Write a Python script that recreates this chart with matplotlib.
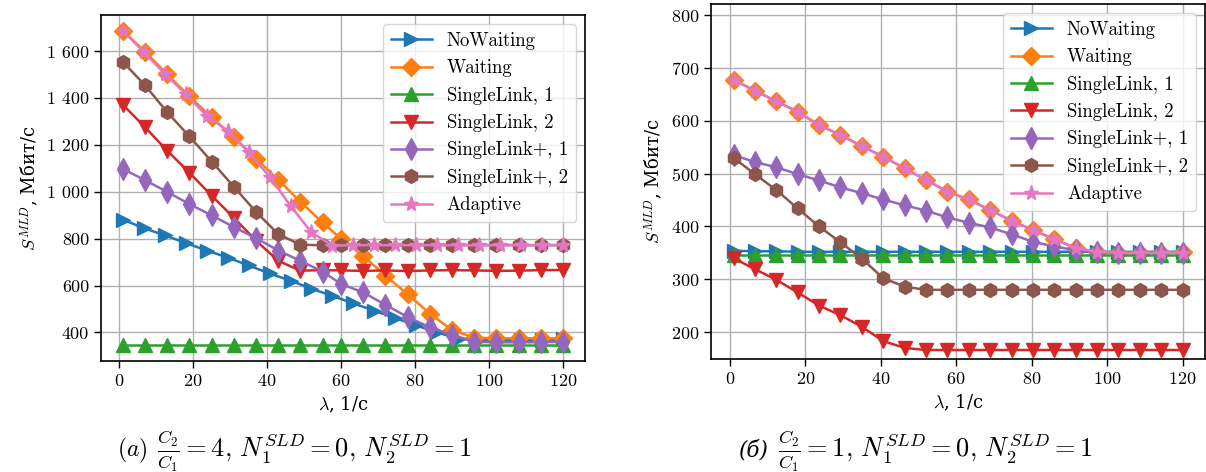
import numpy as np
import matplotlib
matplotlib.use('Agg')
import matplotlib.pyplot as plt

plt.rcParams['font.family'] = ['cmr10', 'DejaVu Serif']
plt.rcParams['mathtext.fontset'] = 'cm'
plt.rcParams['axes.formatter.use_mathtext'] = True
plt.rcParams['font.size'] = 13

# lambda grids (21 and 22 points)
lam21 = [1, 7, 13, 19, 25, 31, 37, 43, 49, 55, 60, 66, 72, 78, 84, 90, 96, 102, 108, 114, 120]
lam22 = [1, 6.67, 12.33, 18, 23.67, 29.33, 35, 40.67, 46.33, 52, 57.67, 63.33, 69, 74.67,
         80.33, 86, 91.67, 97.33, 103, 108.67, 114.33, 120]

# (a) C2/C1 = 4
a_nowait = [882, 845, 815, 782, 750, 720, 686, 652, 621, 587, 556, 524, 493, 461, 430, 400,
            374, 368, 367, 367, 368, 370]
a_wait = [1688, 1598, 1502, 1408, 1318, 1234, 1142, 1052, 958, 870, 800, 726, 643, 563, 481,
          410, 378, 375, 375, 375, 375]
a_sl1 = [345] * 21
a_sl2 = [1372, 1276, 1176, 1082, 984, 890, 792, 706, 664, 666, 665, 663, 665, 662, 665, 666,
         665, 663, 664, 666, 667]
a_slp1 = [1098, 1050, 1000, 948, 900, 850, 803, 750, 706, 660, 607, 571, 518, 466, 422, 390,
          360, 358, 358, 358, 360]
a_slp2 = [1555, 1455, 1340, 1237, 1130, 1022, 915, 820, 775, 772, 773, 772, 773, 772, 773,
          774, 773, 774, 773, 773, 773]
a_adapt = [1688, 1597, 1505, 1418, 1325, 1262, 1170, 1065, 941, 827, 771, 772, 773, 772, 773,
           772, 773, 772, 773, 772, 773, 773]

# (б) C2/C1 = 1
b_nowait = [354, 353, 353, 352, 352, 352, 352, 352, 352, 352, 352, 352, 352, 352, 352, 352,
            352, 352, 352, 352, 352, 352]
b_wait = [678, 657, 637, 617, 592, 573, 552, 532, 510, 488, 466, 451, 431, 411, 393, 376,
          359, 352, 350, 350, 350, 351]
b_sl1 = [345] * 22
b_sl2 = [340, 319, 299, 275, 250, 232, 210, 183, 170, 166, 166, 166, 166, 166, 166, 166,
         166, 166, 166, 166, 166, 166]
b_slp1 = [535, 522, 512, 499, 487, 474, 463, 451, 440, 430, 417, 407, 398, 385, 371, 362,
          355, 351, 350, 350, 350, 350]
b_slp2 = [530, 499, 469, 434, 400, 370, 339, 302, 286, 280, 280, 280, 280, 280, 280, 280,
          280, 280, 280, 280, 280, 280]
b_adapt = [677, 657, 637, 617, 592, 573, 552, 532, 510, 488, 466, 451, 431, 411, 393, 376,
           359, 352, 350, 350, 350, 350]

labels = ['NoWaiting', 'Waiting', 'SingleLink, 1', 'SingleLink, 2',
          'SingleLink+, 1', 'SingleLink+, 2', 'Adaptive']
markers = ['>', 'D', '^', 'v', 'd', 'h', '*']
colors = ['C0', 'C1', 'C2', 'C3', 'C4', 'C5', 'C6']
sizes = [10, 9, 10, 10, 11, 10, 11]

fig = plt.figure(figsize=(12.06, 4.72), dpi=100)
ax1 = fig.add_axes([0.0837, 0.235, 0.4013, 0.733])
ax2 = fig.add_axes([0.5896, 0.2394, 0.4096, 0.752])

series_a = [(lam22, a_nowait), (lam21, a_wait), (lam21, a_sl1), (lam21, a_sl2),
            (lam21, a_slp1), (lam21, a_slp2), (lam22, a_adapt)]
series_b = [(lam22, b_nowait), (lam22, b_wait), (lam22, b_sl1), (lam22, b_sl2),
            (lam22, b_slp1), (lam22, b_slp2), (lam22, b_adapt)]

for ax, series in [(ax1, series_a), (ax2, series_b)]:
    for (x, y), lab, m, c, ms in zip(series, labels, markers, colors, sizes):
        ax.plot(x, y, marker=m, color=c, label=lab, lw=1.8, ms=ms)
    ax.grid(True, color='#b0b0b0', lw=1)
    ax.set_axisbelow(True)
    ax.legend(loc='upper right', fontsize=13.5, handlelength=2.2, labelspacing=0.5,
              borderpad=0.4, handletextpad=0.8)
    for s in ax.spines.values():
        s.set_linewidth(1.2)
    ax.tick_params(width=1, length=5, labelsize=13)
    ax.set_xticks([0, 20, 40, 60, 80, 100, 120])
    ax.set_xlabel('$\\lambda$, 1/с', fontsize=13, family='DejaVu Serif')
    ax.set_ylabel('$S^{MLD}$, Мбит/с', fontsize=13, family='DejaVu Serif')

ax1.set_yticks([400, 600, 800, 1000, 1200, 1400, 1600])
ax1.set_yticklabels(['400', '600', '800', '1 000', '1 200', '1 400', '1 600'])
ax2.set_ylim(149, 821)
ax2.set_yticks([200, 300, 400, 500, 600, 700, 800])

cap_y = 0.045
fig.text(117 / 1206, cap_y, '$(a)$', fontsize=17, va='center', ha='left')
fig.text(157 / 1206, cap_y,
         '$\\frac{C_2}{C_1} = 4,\\, N_1^{SLD} = 0,\\, N_2^{SLD} = 1$',
         fontsize=19, va='center', ha='left')
fig.text(738 / 1206, cap_y, '(б)', fontsize=15.5, va='center', ha='left',
         family='DejaVu Serif', style='italic')
fig.text(778 / 1206, cap_y,
         '$\\frac{C_2}{C_1} = 1,\\, N_1^{SLD} = 0,\\, N_2^{SLD} = 1$',
         fontsize=19, va='center', ha='left')

fig.savefig('out.png', dpi=100)
